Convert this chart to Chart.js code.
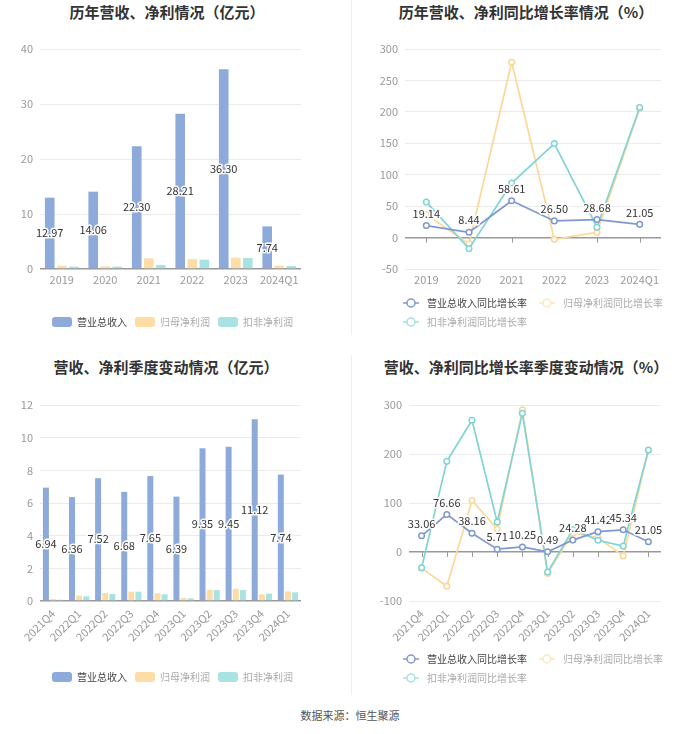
<!DOCTYPE html>
<html>
<head>
<meta charset="utf-8">
<title>营收、净利情况</title>
<script src="https://cdn.jsdelivr.net/npm/chart.js@4.4.1/dist/chart.umd.min.js"></script>
<style>
  body { margin: 0; background: #fff; font-family: "Noto Sans CJK SC", sans-serif; }
  #wrap { position: relative; width: 700px; height: 734px; overflow: hidden; }
  .title { position: absolute; width: 300px; text-align: center; font-size: 15px; font-weight: bold; color: #333; line-height: 20px; }
  .box { position: absolute; width: 350px; }
  .vline { position: absolute; left: 351px; width: 1px; background: #eee; }
  #source { position: absolute; top: 707px; left: 0; width: 700px; text-align: center; font-size: 11px; color: #555; line-height: 16px; }
</style>
</head>
<body>
<div id="wrap">
  <div class="vline" style="top:0;height:335px"></div>
  <div class="vline" style="top:355px;height:340px"></div>

  <div class="title" style="left:17px;top:2px">历年营收、净利情况（亿元）</div>
  <div class="title" style="left:376px;top:2px">历年营收、净利同比增长率情况（%）</div>
  <div class="title" style="left:16px;top:357px">营收、净利季度变动情况（亿元）</div>
  <div class="title" style="left:376px;top:357px">营收、净利同比增长率季度变动情况（%）</div>

  <div class="box" style="left:0;top:30px;height:307px"><canvas id="yearBar"></canvas></div>
  <div class="box" style="left:350px;top:30px;height:307px"><canvas id="yearLine"></canvas></div>
  <div class="box" style="left:0;top:390px;height:302px"><canvas id="quarterBar"></canvas></div>
  <div class="box" style="left:350px;top:390px;height:303px"><canvas id="quarterLine"></canvas></div>

  <div id="source">数据来源：恒生聚源</div>
</div>

<script>
// yearly data (亿元 / %)
const yearLabels = ['2019', '2020', '2021', '2022', '2023', '2024Q1'];
const yearRevenue = [12.97, 14.06, 22.30, 28.21, 36.30, 7.74];
const yearNetProfit = [0.60, 0.48, 1.94, 1.80, 2.06, 0.60];
const yearDeductedProfit = [0.42, 0.42, 0.73, 1.70, 2.00, 0.55];
const yearRevenueGrowth = [19.14, 8.44, 58.61, 26.50, 28.68, 21.05];
const yearNetProfitGrowth = [36.7, -10.0, 279.0, -2.7, 8.5, 205.0];
const yearDeductedGrowth = [56.4, -17.6, 86.7, 149.5, 16.5, 207.0];

// quarterly data
const quarterLabels = ['2021Q4', '2022Q1', '2022Q2', '2022Q3', '2022Q4', '2023Q1', '2023Q2', '2023Q3', '2023Q4', '2024Q1'];
const quarterRevenue = [6.94, 6.36, 7.52, 6.68, 7.65, 6.39, 9.35, 9.45, 11.12, 7.74];
const quarterNetProfit = [0.12, 0.33, 0.49, 0.57, 0.47, 0.18, 0.69, 0.75, 0.41, 0.59];
const quarterDeductedProfit = [0.08, 0.29, 0.43, 0.57, 0.41, 0.16, 0.67, 0.67, 0.45, 0.53];
const quarterRevenueGrowth = [33.06, 76.66, 38.16, 5.71, 10.25, 0.49, 24.28, 41.42, 45.34, 21.05];
const quarterNetProfitGrowth = [-33, -70, 105, 47, 290, -44, 39, 29, -8, 207];
const quarterDeductedGrowth = [-32, 185, 269, 61, 283, -41, 46, 24, 12, 208];

const barNames = ['营业总收入', '归母净利润', '扣非净利润'];
const lineNames = ['营业总收入同比增长率', '归母净利润同比增长率', '扣非净利润同比增长率'];

const barColors = ['#8eaadb', '#fddca6', '#a8e2e3'];
const lineColors = ['#8098d2', '#fcd898', '#7fd4d6'];
const legendIconColors = ['#8098d2', '#fde6bf', '#a6e1e3'];
// drawing order: revenue on top, then 扣非, then 归母 underneath
const lineOrder = [0, 2, 1];

const FONT = '"Noto Sans CJK SC", sans-serif';
Chart.defaults.font.family = FONT;
Chart.defaults.animation = false;

// draws the value of the first dataset (revenue) on each bar / above each point
const valueLabels = {
  id: 'valueLabels',
  afterDatasetsDraw(chart) {
    const ctx = chart.ctx;
    const meta = chart.getDatasetMeta(0);
    const values = chart.data.datasets[0].data;
    const isBar = chart.config.type === 'bar';
    ctx.save();
    ctx.font = '11px ' + FONT;
    ctx.textAlign = 'center';
    ctx.textBaseline = 'middle';
    ctx.lineJoin = 'round';
    meta.data.forEach((el, i) => {
      const text = values[i].toFixed(2);
      const y = isBar ? (el.y + el.base) / 2 : el.y - 12;
      ctx.strokeStyle = '#fff';
      ctx.lineWidth = 3;
      ctx.strokeText(text, el.x, y);
      ctx.fillStyle = '#333';
      ctx.fillText(text, el.x, y);
    });
    ctx.restore();
  }
};

// small tick marks hanging below the zero line
const zeroTicks = {
  id: 'zeroTicks',
  beforeDatasetsDraw(chart) {
    const ctx = chart.ctx;
    const x = chart.scales.x;
    const y0 = chart.scales.y.getPixelForValue(0);
    ctx.save();
    ctx.strokeStyle = '#999';
    ctx.lineWidth = 1;
    chart.data.labels.forEach((l, i) => {
      const px = Math.round(x.getPixelForValue(i)) + 0.5;
      ctx.beginPath();
      ctx.moveTo(px, y0);
      ctx.lineTo(px, y0 + 5);
      ctx.stroke();
    });
    ctx.restore();
  }
};

// line legends start under the y axis labels, not at the canvas edge
const legendShift = {
  id: 'legendShift',
  afterLayout(chart) {
    chart.legend.left += 41;
    chart.legend.right += 41;
  }
};

// legend icon for the line charts: short line with a hollow circle
function lineIcon(color) {
  const c = document.createElement('canvas');
  c.width = 16;
  c.height = 12;
  const g = c.getContext('2d');
  g.strokeStyle = color;
  g.lineWidth = 1.5;
  g.beginPath();
  g.moveTo(0, 6);
  g.lineTo(16, 6);
  g.stroke();
  g.fillStyle = '#fff';
  g.beginPath();
  g.arc(8, 6, 4, 0, Math.PI * 2);
  g.fill();
  g.stroke();
  return c;
}
const lineIcons = legendIconColors.map(lineIcon);

function gridColor(c) {
  return c.tick.value === 0 ? '#999' : '#ebebeb';
}
function gridWidth(c) {
  return c.tick.value === 0 ? 1.5 : 1;
}

function makeBarChart(id, labels, series, yMax, yStep, xHeight, rotate) {
  const ctx = document.getElementById(id).getContext('2d');
  return new Chart(ctx, {
    type: 'bar',
    data: {
      labels: labels,
      datasets: series.map((d, i) => ({
        label: barNames[i],
        data: d,
        backgroundColor: barColors[i],
        borderWidth: 0,
        categoryPercentage: rotate ? 0.82 : 0.83,
        barPercentage: rotate ? 0.84 : 0.8
      }))
    },
    options: {
      responsive: true,
      maintainAspectRatio: false,
      layout: { padding: { left: 0, right: 49, top: rotate ? 15 : 19, bottom: 0 } },
      scales: {
        x: {
          grid: { display: false, drawTicks: false },
          border: { display: false },
          ticks: {
            color: '#999',
            font: { size: 11 },
            padding: rotate ? 6 : 4,
            maxRotation: rotate ? 45 : 0,
            minRotation: rotate ? 45 : 0,
            autoSkip: false
          },
          afterFit: s => { s.height = xHeight; }
        },
        y: {
          min: 0,
          max: yMax,
          border: { display: false },
          grid: { color: gridColor, lineWidth: gridWidth, drawTicks: false },
          ticks: { stepSize: yStep, color: '#999', font: { size: 11 }, padding: 7 },
          afterFit: s => { s.width = 40; }
        }
      },
      plugins: {
        legend: {
          position: 'bottom',
          align: 'end',
          labels: {
            boxWidth: 20,
            boxHeight: 10,
            useBorderRadius: true,
            borderRadius: 3,
            padding: 8,
            font: { size: 10 },
            generateLabels(chart) {
              const items = Chart.defaults.plugins.legend.labels.generateLabels(chart);
              items.forEach((it, i) => { it.fontColor = i === 0 ? '#444' : '#aaa'; });
              return items;
            }
          }
        },
        tooltip: { enabled: false }
      }
    },
    plugins: [valueLabels]
  });
}

function makeLineChart(id, labels, series, yMin, yMax, yStep, xHeight, yWidth, rotate) {
  const ctx = document.getElementById(id).getContext('2d');
  return new Chart(ctx, {
    type: 'line',
    data: {
      labels: labels,
      datasets: series.map((d, i) => ({
        label: lineNames[i],
        data: d,
        borderColor: lineColors[i],
        backgroundColor: '#fff',
        borderWidth: 1.7,
        pointRadius: 2.8,
        pointBorderWidth: 1.5,
        pointBackgroundColor: '#fff',
        pointBorderColor: lineColors[i],
        tension: 0,
        order: lineOrder[i]
      }))
    },
    options: {
      responsive: true,
      maintainAspectRatio: false,
      layout: { padding: { left: 0, right: 39, top: rotate ? 15 : 19, bottom: 0 } },
      scales: {
        x: {
          offset: true,
          grid: { display: false, drawTicks: false },
          border: { display: false },
          ticks: {
            color: '#999',
            font: { size: 11 },
            padding: rotate ? 6 : 4,
            maxRotation: rotate ? 45 : 0,
            minRotation: rotate ? 45 : 0,
            autoSkip: false
          },
          afterFit: s => { s.height = xHeight; }
        },
        y: {
          min: yMin,
          max: yMax,
          border: { display: false },
          grid: { color: gridColor, lineWidth: gridWidth, drawTicks: false },
          ticks: { stepSize: yStep, color: '#999', font: { size: 11 }, padding: 7 },
          afterFit: s => { s.width = yWidth; }
        }
      },
      plugins: {
        legend: {
          position: 'bottom',
          align: 'start',
          labels: {
            usePointStyle: true,
            pointStyleWidth: 22,
            boxHeight: 10,
            padding: 9,
            font: { size: 10 },
            generateLabels(chart) {
              const items = Chart.defaults.plugins.legend.labels.generateLabels(chart);
              items.sort((a, b) => a.datasetIndex - b.datasetIndex);
              items.forEach(it => {
                it.pointStyle = lineIcons[it.datasetIndex];
                it.fontColor = it.datasetIndex === 0 ? '#444' : '#aaa';
              });
              return items;
            }
          }
        },
        tooltip: { enabled: false }
      }
    },
    plugins: [zeroTicks, valueLabels, legendShift]
  });
}

makeBarChart('yearBar', yearLabels, [yearRevenue, yearNetProfit, yearDeductedProfit], 40, 10, 40, false);
makeLineChart('yearLine', yearLabels, [yearRevenueGrowth, yearNetProfitGrowth, yearDeductedGrowth], -50, 300, 50, 20, 55, false);
makeBarChart('quarterBar', quarterLabels, [quarterRevenue, quarterNetProfit, quarterDeductedProfit], 12, 2, 63, true);
makeLineChart('quarterLine', quarterLabels, [quarterRevenueGrowth, quarterNetProfitGrowth, quarterDeductedGrowth], -100, 300, 100, 44, 59, true);
</script>
</body>
</html>
